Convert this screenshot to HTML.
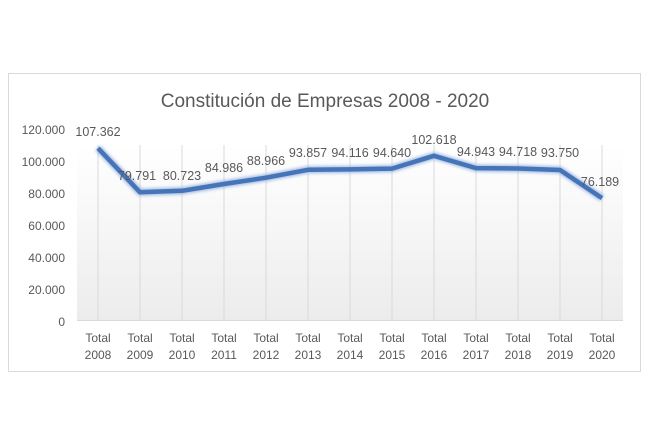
<!DOCTYPE html>
<html><head><meta charset="utf-8"><style>
html,body{margin:0;padding:0;background:#fff;}
svg{display:block;font-family:"Liberation Sans",sans-serif;}
</style></head><body>
<svg width="650" height="428" viewBox="0 0 650 428">
<defs>
<linearGradient id="bg" x1="0" y1="0" x2="0" y2="1">
<stop offset="0" stop-color="#ffffff"/><stop offset="1" stop-color="#ececec"/>
</linearGradient>
<filter id="gl" x="-10%" y="-50%" width="120%" height="200%"><feGaussianBlur stdDeviation="1.5"/></filter>
</defs>
<rect x="8.5" y="73.5" width="632" height="298" fill="#fff" stroke="#d9d9d9"/>
<rect x="77" y="145" width="546" height="175" fill="url(#bg)"/>
<text x="325" y="107" text-anchor="middle" font-size="19" fill="#595959">Constitución de Empresas 2008 - 2020</text>
<g stroke="#d9d9d9" stroke-width="1">
<line x1="98" y1="145" x2="98" y2="320"/><line x1="140" y1="145" x2="140" y2="320"/><line x1="182" y1="145" x2="182" y2="320"/><line x1="224" y1="145" x2="224" y2="320"/><line x1="266" y1="145" x2="266" y2="320"/><line x1="308" y1="145" x2="308" y2="320"/><line x1="350" y1="145" x2="350" y2="320"/><line x1="392" y1="145" x2="392" y2="320"/><line x1="434" y1="145" x2="434" y2="320"/><line x1="476" y1="145" x2="476" y2="320"/><line x1="518" y1="145" x2="518" y2="320"/><line x1="560" y1="145" x2="560" y2="320"/><line x1="602" y1="145" x2="602" y2="320"/>
<line x1="77" y1="320.5" x2="623" y2="320.5"/>
</g>
<g font-size="12" fill="#595959" text-anchor="end">
<text x="65" y="134">120.000</text><text x="65" y="166">100.000</text><text x="65" y="198">80.000</text><text x="65" y="230">60.000</text><text x="65" y="262">40.000</text><text x="65" y="294">20.000</text><text x="65" y="326">0</text>
</g>
<g font-size="12" fill="#595959" text-anchor="middle">
<text x="98" y="342">Total</text><text x="98" y="359">2008</text>
<text x="140" y="342">Total</text><text x="140" y="359">2009</text>
<text x="182" y="342">Total</text><text x="182" y="359">2010</text>
<text x="224" y="342">Total</text><text x="224" y="359">2011</text>
<text x="266" y="342">Total</text><text x="266" y="359">2012</text>
<text x="308" y="342">Total</text><text x="308" y="359">2013</text>
<text x="350" y="342">Total</text><text x="350" y="359">2014</text>
<text x="392" y="342">Total</text><text x="392" y="359">2015</text>
<text x="434" y="342">Total</text><text x="434" y="359">2016</text>
<text x="476" y="342">Total</text><text x="476" y="359">2017</text>
<text x="518" y="342">Total</text><text x="518" y="359">2018</text>
<text x="560" y="342">Total</text><text x="560" y="359">2019</text>
<text x="602" y="342">Total</text><text x="602" y="359">2020</text>
</g>
<polyline fill="none" stroke="#9db8e0" stroke-width="7" filter="url(#gl)" stroke-linejoin="round" points="98,148.2 140,192.3 182,190.8 224,184 266,177.7 308,169.8 350,169.4 392,168.6 434,155.8 476,168.1 518,168.5 560,170 602,198.1"/>
<polyline fill="none" stroke="#4674b9" stroke-width="4.5" stroke-linejoin="round" points="98,148.2 140,192.3 182,190.8 224,184 266,177.7 308,169.8 350,169.4 392,168.6 434,155.8 476,168.1 518,168.5 560,170 602,198.1"/>
<g font-size="12.5" fill="#595959" text-anchor="middle">
<text x="98" y="136">107.362</text>
<text x="137" y="180">79.791</text>
<text x="182" y="180">80.723</text>
<text x="224" y="172">84.986</text>
<text x="266" y="165">88.966</text>
<text x="308" y="157">93.857</text>
<text x="350" y="157">94.116</text>
<text x="392" y="157">94.640</text>
<text x="434" y="144">102.618</text>
<text x="476" y="156">94.943</text>
<text x="518" y="156">94.718</text>
<text x="560" y="157">93.750</text>
<text x="600" y="186">76.189</text>
</g>
</svg>
</body></html>
